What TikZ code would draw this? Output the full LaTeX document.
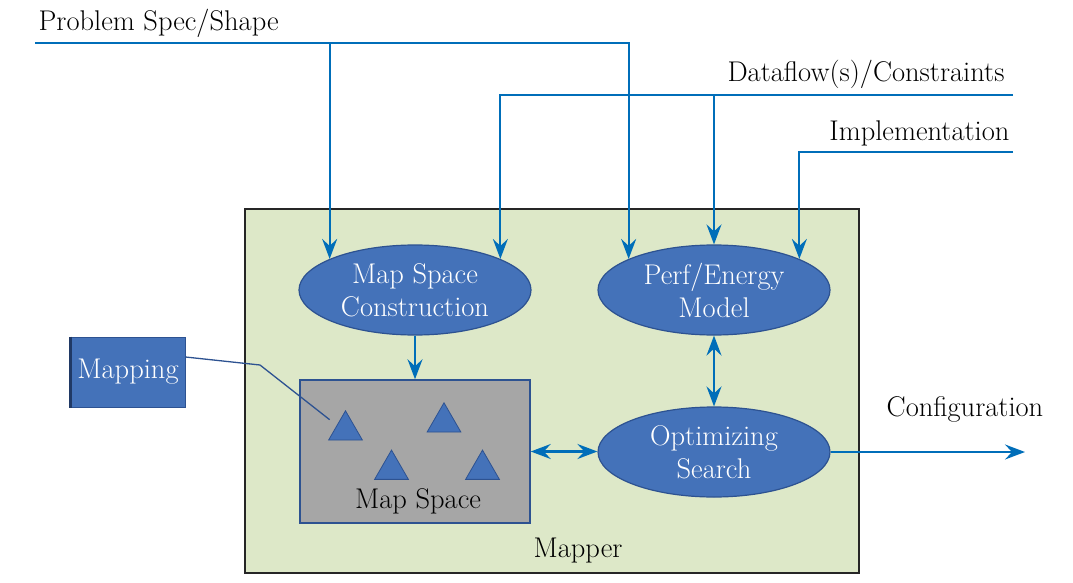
\documentclass[tikz,border=0pt]{standalone}
\usepackage{fontspec}
\usetikzlibrary{arrows.meta,shapes.geometric}
\definecolor{wireblue}{RGB}{0,110,185}
\definecolor{blobfill}{RGB}{68,114,185}
\definecolor{blobline}{RGB}{45,82,145}
\definecolor{mapperfill}{RGB}{221,232,200}
\definecolor{spacefill}{RGB}{166,166,166}
\newcommand\diagfont{\fontsize{28.5}{33}\selectfont}
\begin{document}
\begin{tikzpicture}[x=1pt,y=-1pt,font=\diagfont,
  wire/.style={draw=wireblue,line width=2.2pt},
  tip/.style={-{Stealth[length=20pt,width=15pt,inset=7pt]}},
  both/.style={{Stealth[length=20pt,width=15pt,inset=7pt]}-{Stealth[length=20pt,width=15pt,inset=7pt]}},
  blob/.style={ellipse,draw=blobline,line width=1.2pt,fill=blobfill,text=white,
    minimum width=232pt,minimum height=90pt,inner sep=0pt,align=center},
  tri/.style={regular polygon,regular polygon sides=3,minimum size=39pt,inner sep=0pt,
    fill=blobfill,draw=blobline,line width=0.8pt},
  pointer/.style={draw=blobline,line width=1.3pt}]
\useasboundingbox (0,0) rectangle (1073,583);
\node[draw=black!85,line width=1.5pt,fill=mapperfill,minimum width=614pt,minimum height=364pt] (mapper) at (552,391) {};
\node[anchor=base] (mapperlabel) at (578,557) {Mapper};
\node[blob] (msc) at (415,290) {Map Space\\Construction};
\node[blob] (pem) at (714,290) {Perf/Energy\\Model};
\node[blob] (os) at (714,452) {Optimizing\\Search};
\node[draw=blobline,line width=1.5pt,fill=spacefill,minimum width=230pt,minimum height=143pt] (ms) at (415,451.5) {};
\node[anchor=base] (mslabel) at (418,508) {Map Space};
\foreach \n/\x/\y in {1/345.5/430.3,2/444/422.3,3/391.5/469.6,4/482.5/469.6}
  \node[tri] (t\n) at (\x,\y) {};
\node[draw=blobline,line width=1pt,fill=blobfill,text=white,minimum width=114pt,minimum height=70pt] (mapping) at (128,372) {Mapping};
\draw[draw=blobline!70!black,line width=2.5pt] (mapping.north west) -- (mapping.south west);
\node[anchor=base west] (pslabel) at (35,30.7) {Problem Spec/Shape};
\node[anchor=base east] (dflabel) at (1008,81.7) {Dataflow(s)/Constraints};
\node[anchor=base east] (imlabel) at (1013,140) {Implementation};
\node[anchor=base] (cfglabel) at (965,416.7) {Configuration};
\coordinate (ps) at (35,43);
\coordinate (df) at (1013,95);
\coordinate (im) at (1013,152);
\coordinate (cfg) at (1025,452);
\coordinate (bend) at (260,365);
\draw[wire,tip] (ps) -| (pem.160);
\draw[wire,tip] (ps -| msc.160) -- (msc.160);
\draw[wire,tip] (df) -| (msc.20);
\draw[wire,tip] (df -| pem.north) -- (pem.north);
\draw[wire,tip] (im) -| (pem.20);
\draw[wire,tip] (msc.south) -- (ms.north);
\draw[wire,both] (pem.south) -- (os.north);
\draw[wire,both] (ms.east) -- (ms.east -| os.west);
\draw[wire,tip] (os.east) -- (cfg);
\draw[pointer,shorten >=9pt] ([yshift=15pt]mapping.east) -- (bend) -- (t1.side 1);
\end{tikzpicture}
\end{document}
